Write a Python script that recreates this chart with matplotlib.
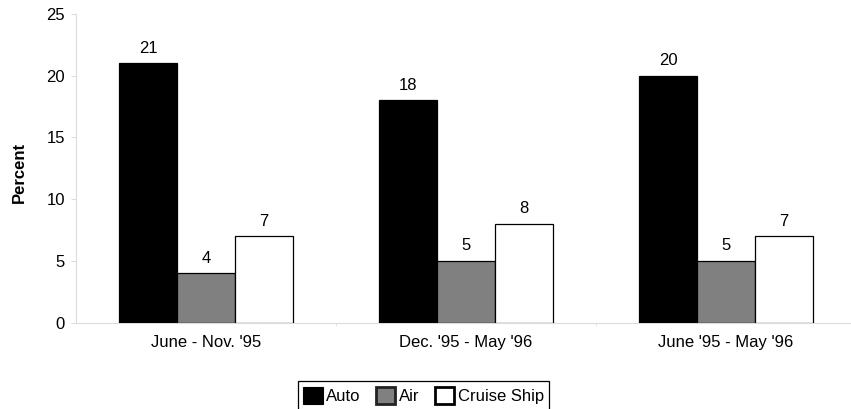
import matplotlib
matplotlib.use("Agg")
import matplotlib.pyplot as plt
from matplotlib.patches import Patch
import numpy as np

plt.rcParams['font.family'] = ['Liberation Sans', 'DejaVu Sans']

periods = ["June - Nov. '95", "Dec. '95 - May '96", "June '95 - May '96"]
series_names = ["Auto", "Air", "Cruise Ship"]
auto = [21, 18, 20]
air = [4, 5, 5]
cruise = [7, 8, 7]
y_ticks = [0, 5, 10, 15, 20, 25]

colors = ["#000000", "#808080", "#ffffff"]
axis_grey = "#dcdcdc"
fs = 12

fig = plt.figure(figsize=(8.51, 4.09), dpi=100)
ax = fig.add_axes([76 / 851, 86.3 / 409, 780 / 851, 308.7 / 409])

x = np.arange(len(periods))
w = 2 / 9
for i, (vals, col) in enumerate(zip([auto, air, cruise], colors)):
    pos = x + (i - 1) * w
    bars = ax.bar(pos, vals, width=w, color=col, edgecolor="black",
                  linewidth=0.9, zorder=3)
    for b, v in zip(bars, vals):
        ax.annotate(f"{v}", (b.get_x() + b.get_width() / 2, v),
                    xytext=(0, 7.6), textcoords="offset points",
                    ha="center", va="baseline", fontsize=fs)

ax.set_xlim(-0.5, 2.5)
ax.set_ylim(0, 25)
ax.set_yticks(y_ticks)
ax.set_xticks(x)
ax.set_xticklabels(periods, fontsize=fs)
ax.set_xticks([0.5, 1.5], minor=True)
ax.tick_params(axis="x", which="major", length=0, pad=8.5)
ax.tick_params(axis="x", which="minor", length=2.5, color=axis_grey, direction="out")
ax.tick_params(axis="y", length=3.6, color=axis_grey, pad=4.3, labelsize=fs)

for s in ("top", "right"):
    ax.spines[s].set_visible(False)
for s in ("left", "bottom"):
    ax.spines[s].set_color(axis_grey)
    ax.spines[s].set_linewidth(0.8)

fig.text(19 / 851, 1 - 172 / 409, "Percent", rotation=90, ha="center",
         va="center", fontsize=fs, fontweight="bold")

handles = [Patch(facecolor=colors[0], edgecolor="black", linewidth=0.8),
           Patch(facecolor=colors[1], edgecolor="#222222", linewidth=2.0),
           Patch(facecolor=colors[2], edgecolor="black", linewidth=2.0)]
leg = fig.legend(handles, series_names, loc="upper center",
                 bbox_to_anchor=(423.5 / 851, 1 - 381 / 409), ncol=3,
                 fontsize=fs, frameon=True, fancybox=False, framealpha=1,
                 edgecolor="black", handlelength=1.15, handleheight=1.2,
                 handletextpad=0.2, columnspacing=0.95, borderpad=0.35,
                 borderaxespad=0)
leg.get_frame().set_linewidth(0.9)

fig.savefig("out.png", dpi=100)
